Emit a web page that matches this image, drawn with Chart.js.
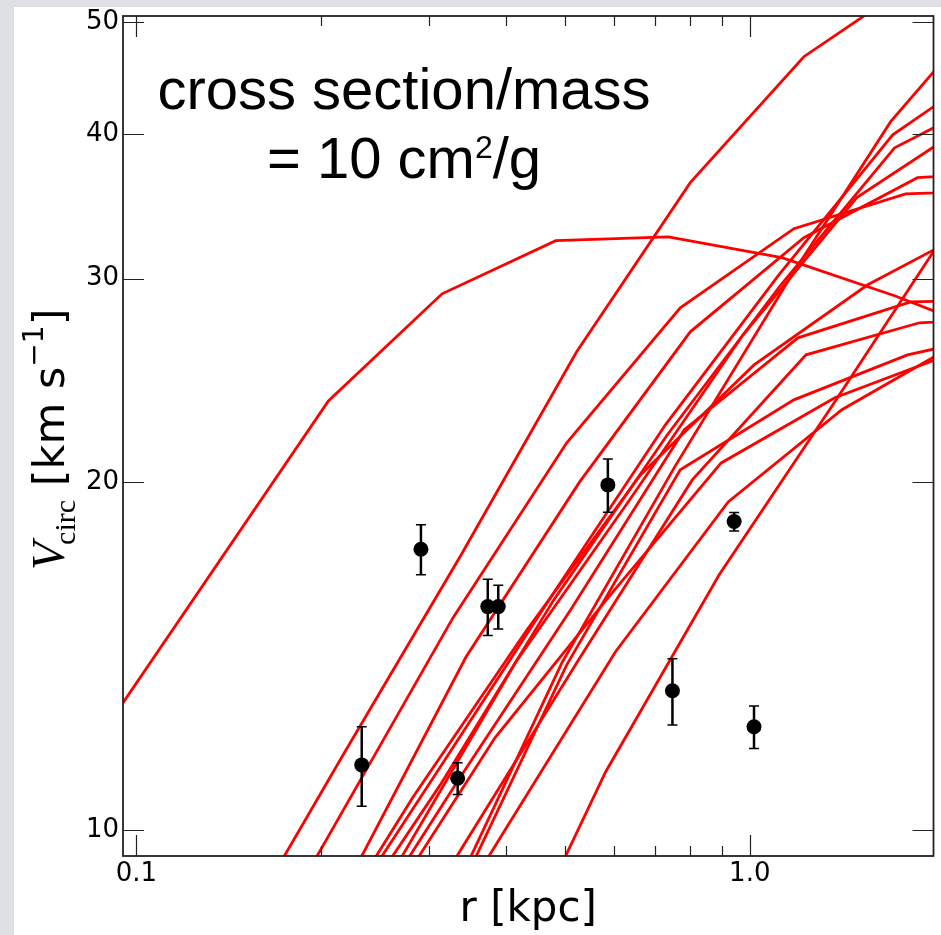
<!DOCTYPE html>
<html>
<head>
<meta charset="utf-8">
<title>Vcirc vs r</title>
<script src="https://cdn.jsdelivr.net/npm/chart.js@4.4.1/dist/chart.umd.min.js"></script>
<style>
  html, body { margin: 0; padding: 0; background: #dfe0e4; }
  canvas { display: block; }
</style>
</head>
<body>
<canvas id="vcircChart" width="941" height="935"></canvas>
<script>
// observed rotation curve (r in kpc, V in km/s, symmetric error)
const obsR = [0.233, 0.291, 0.334, 0.374, 0.389, 0.587, 0.748, 0.943, 1.016];
const obsV = [11.39, 17.50, 11.09, 15.61, 15.61, 19.89, 13.20, 18.49, 12.29];
const obsErr = [0.90, 0.87, 0.35, 0.87, 0.68, 1.05, 0.87, 0.34, 0.52];

// simulated halos, SIDM 10 cm^2/g
const r01 = [0.142, 0.2183, 0.3383, 0.5221, 0.7998, 1.225, 1.877];
const v01 = [7.88, 11.67, 17.30, 25.93, 36.31, 46.66, 54.40];
const r02 = [0.1399, 0.2143, 0.3283, 0.5030, 0.7703, 1.180, 1.795, 2.749];
const v02 = [6.911, 10.27, 15.27, 21.63, 28.30, 33.13, 35.51, 35.80];
const r03 = [0.0873, 0.2056, 0.3150, 0.4827, 0.7366, 1.128, 1.722, 2.639];
const v03 = [12.06, 23.51, 29.10, 32.35, 32.60, 31.27, 28.99, 26.56];
const r04 = [0.2250, 0.3446, 0.5280, 0.7998, 1.225, 1.877, 2.876];
const v04 = [9.167, 14.12, 20.01, 26.98, 32.54, 36.67, 37.26];
const r05 = [0.1845, 0.2827, 0.4330, 0.6633, 1.0162, 1.557, 2.385];
const v05 = [7.436, 10.69, 14.90, 20.29, 25.26, 29.63, 33.39];
const r06 = [0.2026, 0.3104, 0.4755, 0.7285, 1.116, 1.710, 2.619];
const v06 = [7.972, 11.27, 15.95, 22.42, 30.23, 39.94, 46.66];
const r07 = [0.2041, 0.3127, 0.4791, 0.7339, 1.124, 1.722, 2.639];
const v07 = [7.800, 10.94, 15.82, 21.98, 29.63, 38.92, 43.69];
const r08 = [0.1770, 0.2713, 0.4155, 0.6367, 0.9752, 1.494, 2.289];
const v08 = [6.994, 9.501, 13.98, 19.30, 26.82, 35.24, 40.91];
const r09 = [0.2175, 0.3333, 0.5105, 0.7820, 1.198, 1.829, 2.802];
const v09 = [7.723, 11.01, 15.51, 22.20, 26.66, 28.64, 28.76];
const r10 = [0.2508, 0.3842, 0.5885, 0.8982, 1.376, 2.108];
const v10 = [8.447, 12.02, 15.91, 20.78, 23.66, 25.77];
const r11 = [0.2241, 0.3433, 0.5260, 0.8058, 1.235, 1.891, 2.897];
const v11 = [6.718, 9.750, 14.04, 20.09, 25.77, 27.47, 27.74];
const r12 = [0.3222, 0.4937, 0.7561, 1.158, 1.697, 2.599];
const v12 = [8.617, 13.95, 20.66, 29.92, 41.00, 53.32];
const r13 = [0.3283, 0.5030, 0.7703, 1.180, 1.808, 2.770];
const v13 = [8.617, 13.90, 20.50, 23.56, 25.77, 27.08];
const r14 = [0.2574, 0.3944, 0.6041, 0.9220, 1.413, 2.164];
const v14 = [6.855, 9.906, 14.27, 19.23, 23.10, 26.30];
const r15 = [0.3799, 0.5820, 0.8915, 1.366, 2.093];
const v15 = [6.979, 11.23, 16.63, 23.33, 32.93];

const halos = [
  [r01, v01], [r02, v02], [r03, v03], [r04, v04], [r05, v05],
  [r06, v06], [r07, v07], [r08, v08], [r09, v09], [r10, v10],
  [r11, v11], [r12, v12], [r13, v13], [r14, v14], [r15, v15]
];

// axis ticks
const xTicks = [0.1, 0.2, 0.3, 0.4, 0.5, 0.6, 0.7, 0.8, 0.9, 1.0];
const xTickLabels = ['0.1', '', '', '', '', '', '', '', '', '1.0'];
const yTicks = [10, 20, 30, 40, 50];
const yTickLabels = ['10', '20', '30', '40', '50'];

const toPoints = (rs, vs) => rs.map((r, i) => ({ x: r, y: vs[i] }));

const datasets = [{
  label: 'data',
  data: toPoints(obsR, obsV),
  showLine: false,
  pointRadius: 7.5,
  pointHoverRadius: 7.5,
  pointBackgroundColor: '#000',
  pointBorderWidth: 0
}];
halos.forEach(([rs, vs], i) => {
  datasets.push({
    label: 'halo ' + (i + 1),
    data: toPoints(rs, vs),
    showLine: true,
    borderColor: '#ff0000',
    borderWidth: 2.8,
    pointRadius: 0,
    tension: 0,
    fill: false
  });
});

// page background + white panel
const panelPlugin = {
  id: 'panel',
  beforeDraw(chart) {
    const { ctx, width, height } = chart;
    ctx.save();
    ctx.fillStyle = '#dfe0e4';
    ctx.fillRect(0, 0, width, height);
    ctx.fillStyle = '#ffffff';
    ctx.fillRect(14, 7, width - 14, height - 7);
    ctx.restore();
  }
};

// error bars under the markers
const errorBarPlugin = {
  id: 'errorBars',
  beforeDatasetDraw(chart, args) {
    if (args.index !== 0) return;
    const { ctx } = chart;
    const xs = chart.scales.x, ys = chart.scales.y;
    ctx.save();
    ctx.strokeStyle = '#000';
    obsR.forEach((r, i) => {
      const px = xs.getPixelForValue(r);
      const top = ys.getPixelForValue(obsV[i] + obsErr[i]);
      const bot = ys.getPixelForValue(obsV[i] - obsErr[i]);
      ctx.lineWidth = 2.5;
      ctx.beginPath();
      ctx.moveTo(px, top);
      ctx.lineTo(px, bot);
      ctx.stroke();
      ctx.lineWidth = 1.5;
      ctx.beginPath();
      ctx.moveTo(px - 5, top);
      ctx.lineTo(px + 5, top);
      ctx.moveTo(px - 5, bot);
      ctx.lineTo(px + 5, bot);
      ctx.stroke();
    });
    ctx.restore();
  }
};

// matplotlib-style box with inward ticks on all sides
const framePlugin = {
  id: 'frame',
  afterDatasetsDraw(chart) {
    const { ctx, chartArea: a } = chart;
    const xs = chart.scales.x, ys = chart.scales.y;
    ctx.save();
    ctx.strokeStyle = '#222';
    ctx.lineWidth = 1.2;
    ctx.beginPath();
    xTicks.forEach((v, i) => {
      const px = Math.round(xs.getPixelForValue(v)) + 0.5;
      const len = xTickLabels[i] ? 21 : 10;
      ctx.moveTo(px, a.bottom);
      ctx.lineTo(px, a.bottom - len);
      ctx.moveTo(px, a.top);
      ctx.lineTo(px, a.top + len);
    });
    yTicks.forEach(v => {
      const py = Math.round(ys.getPixelForValue(v)) + 0.5;
      ctx.moveTo(a.left, py);
      ctx.lineTo(a.left + 21, py);
      ctx.moveTo(a.right, py);
      ctx.lineTo(a.right - 21, py);
    });
    ctx.stroke();
    ctx.lineWidth = 1.8;
    ctx.strokeRect(a.left, a.top, a.right - a.left, a.bottom - a.top);
    ctx.restore();
  }
};

// y-axis label with sub/superscripts, and the in-plot annotation
const textPlugin = {
  id: 'labels',
  afterDraw(chart) {
    const { ctx, chartArea: a } = chart;
    ctx.save();
    ctx.fillStyle = '#000';
    ctx.textBaseline = 'alphabetic';

    ctx.save();
    ctx.translate(64, 570);
    ctx.rotate(-Math.PI / 2);
    let x = 0;
    const piece = (text, font, dy) => {
      ctx.font = font;
      ctx.fillText(text, x, dy);
      x += ctx.measureText(text).width;
    };
    piece('V', 'italic 46px "Liberation Serif"', 0);
    x -= 3;
    piece('circ', '30px "Liberation Serif"', 11);
    piece(' [km s', '43px "DejaVu Sans"', 0);
    piece('\u22121', '28px "DejaVu Sans"', -21);
    piece(']', '43px "DejaVu Sans"', 0);
    ctx.restore();

    const cx = a.left + 281;
    ctx.textAlign = 'center';
    ctx.font = '58px "Liberation Sans"';
    ctx.fillText('cross section/mass', cx, a.top + 93);

    ctx.textAlign = 'left';
    const big = '58px "Liberation Sans"', small = '32px "Liberation Sans"';
    ctx.font = big;
    const w1 = ctx.measureText('= 10 cm').width;
    const w3 = ctx.measureText('/g').width;
    ctx.font = small;
    const w2 = ctx.measureText('2').width;
    let sx = cx - (w1 + w2 + w3) / 2;
    const base = a.top + 162;
    ctx.font = big;
    ctx.fillText('= 10 cm', sx, base);
    sx += w1;
    ctx.font = small;
    ctx.fillText('2', sx, base - 20);
    sx += w2;
    ctx.font = big;
    ctx.fillText('/g', sx, base);
    ctx.restore();
  }
};

const tickFont = { family: 'DejaVu Sans', size: 26 };

new Chart(document.getElementById('vcircChart'), {
  type: 'scatter',
  data: { datasets },
  options: {
    responsive: false,
    animation: false,
    devicePixelRatio: 1,
    layout: { padding: { left: 0, top: 16, right: 5, bottom: 0 } },
    plugins: { legend: { display: false }, tooltip: { enabled: false } },
    scales: {
      x: {
        type: 'logarithmic',
        min: 0.0951,
        max: 1.993,
        afterBuildTicks: s => { s.ticks = xTicks.map(v => ({ value: v })); },
        afterFit: s => { s.height = 79; s.paddingLeft = 0; s.paddingRight = 0; },
        grid: { display: false, drawTicks: false },
        border: { display: false },
        ticks: {
          autoSkip: false, maxRotation: 0, padding: 3, color: '#000', font: tickFont,
          callback: (v, i) => xTickLabels[i]
        },
        title: {
          display: true, text: 'r [kpc]', color: '#000',
          font: { family: 'DejaVu Sans', size: 42 },
          padding: { top: 0, bottom: 0 }
        }
      },
      y: {
        type: 'logarithmic',
        min: 9.50,
        max: 50.6,
        afterBuildTicks: s => { s.ticks = yTicks.map(v => ({ value: v })); },
        afterFit: s => { s.width = 123; s.paddingTop = 0; s.paddingBottom = 0; },
        grid: { display: false, drawTicks: false },
        border: { display: false },
        ticks: {
          autoSkip: false, padding: 4, color: '#000', font: tickFont,
          callback: (v, i) => yTickLabels[i]
        }
      }
    }
  },
  plugins: [panelPlugin, errorBarPlugin, framePlugin, textPlugin]
});
</script>
</body>
</html>
